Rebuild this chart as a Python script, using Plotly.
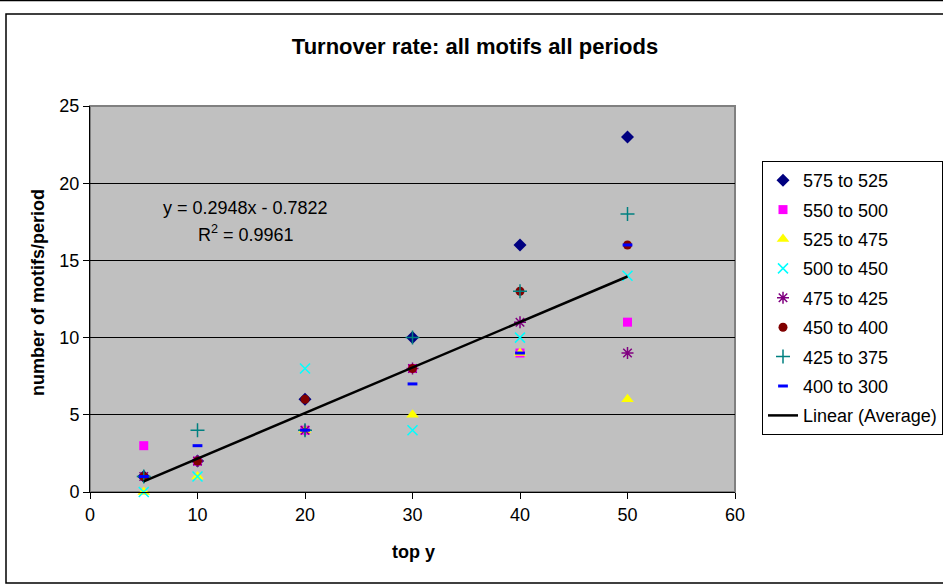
import numpy as np
import plotly.graph_objects as go

# ---- data ----
top_y = [5, 10, 20, 30, 40, 50]
series_names = ["575 to 525", "550 to 500", "525 to 475", "500 to 450",
                "475 to 425", "450 to 400", "425 to 375", "400 to 300"]
s575_525 = [1, 2, 6, 10, 16, 23]
s550_500 = [3, 2, 4, 8, 9, 11]
s525_475 = [0, 1, 4, 5, 9, 6]
s500_450 = [0, 1, 8, 4, 10, 14]
s475_425 = [1, 2, 4, 8, 11, 9]
s450_400 = [1, 2, 6, 8, 13, 16]
s425_375 = [1, 4, 4, 10, 13, 18]
s400_300 = [1, 3, 4, 7, 9, 16]
series_values = [s575_525, s550_500, s525_475, s500_450,
                 s475_425, s450_400, s425_375, s400_300]

x_ticks = [0, 10, 20, 30, 40, 50, 60]
y_ticks = [0, 5, 10, 15, 20, 25]

# ---- styles ----
styles = [
    dict(symbol="diamond", color="#000080", size=10, line=dict(width=0)),
    dict(symbol="square", color="#FF00FF", size=9, line=dict(width=0)),
    dict(symbol="triangle-up", color="#FFFF00", size=11, line=dict(width=0)),
    dict(symbol="x-thin-open", color="#00FFFF", size=10, line=dict(width=1.5, color="#00FFFF")),
    dict(symbol="asterisk-open", color="#800080", size=10, line=dict(width=1.5, color="#800080")),
    dict(symbol="circle", color="#800000", size=9, line=dict(width=0)),
    dict(symbol="cross-thin-open", color="#008080", size=10, line=dict(width=1.5, color="#008080")),
    dict(symbol="line-ew-open", color="#0000FF", size=7, line=dict(width=3, color="#0000FF")),
]

PL, PR, PT, PB = 90, 735, 106, 492
PW, PH = PR - PL, PB - PT


def px(xp):
    return (xp - PL) / PW


def py(yp):
    return (PB - yp) / PH


fig = go.Figure()
for i, (name, vals) in enumerate(zip(series_names, series_values)):
    fig.add_trace(go.Scatter(
        x=top_y, y=vals, mode="markers", name=name,
        marker=styles[i], legendgroup=f"g{i}", cliponaxis=False,
    ))

# average series and linear trendline
avg = np.mean(np.array(series_values, dtype=float), axis=0)
slope, intercept = np.polyfit(top_y, avg, 1)
pred = slope * np.array(top_y) + intercept
r2 = 1 - np.sum((avg - pred) ** 2) / np.sum((avg - avg.mean()) ** 2)
fig.add_trace(go.Scatter(
    x=[top_y[0], top_y[-1]], y=[slope * top_y[0] + intercept, slope * top_y[-1] + intercept],
    mode="lines", name="Linear (Average)", line=dict(color="black", width=2.5),
    legendgroup="g8",
))

fig.add_annotation(
    xref="paper", yref="paper", x=px(245), y=py(208),
    text=f"y = {slope:.4f}x - {abs(intercept):.4f}", showarrow=False,
    font=dict(size=18, color="black"), xanchor="center", yanchor="middle",
)
fig.add_annotation(
    xref="paper", yref="paper", x=px(246), y=py(233),
    text=f"R<sup>2</sup> = {r2:.4f}", showarrow=False,
    font=dict(size=18, color="black"), xanchor="center", yanchor="middle",
)
fig.add_annotation(
    xref="paper", yref="paper", x=px(38), y=py(293), textangle=-90,
    text="<b>number of motifs/period</b>", showarrow=False,
    font=dict(size=18, color="black"), xanchor="center", yanchor="middle",
)
fig.add_annotation(
    xref="paper", yref="paper", x=px(413), y=py(552),
    text="<b>top y</b>", showarrow=False,
    font=dict(size=18, color="black"), xanchor="center", yanchor="middle",
)

fig.update_layout(
    width=943, height=584,
    margin=dict(l=PL, r=943 - PR, t=PT, b=584 - PB, autoexpand=False),
    paper_bgcolor="white", plot_bgcolor="#C0C0C0",
    font=dict(family="Liberation Sans, Arial, sans-serif", size=18, color="black"),
    title=dict(text="<b>Turnover rate: all motifs all periods</b>", x=475 / 943, xref="container",
               xanchor="center", y=1 - 46 / 584, yref="container", yanchor="middle",
               font=dict(size=22)),
    showlegend=True,
    legend=dict(
        x=px(762), xref="paper", xanchor="left",
        y=py(161), yref="paper", yanchor="top",
        bgcolor="white", bordercolor="black", borderwidth=1,
        font=dict(size=18), traceorder="grouped", tracegroupgap=3,
        itemwidth=30,
    ),
    xaxis=dict(
        range=[0, 60], tickvals=x_ticks, showgrid=False, zeroline=False,
        showline=True, linecolor="black", linewidth=1,
        ticks="outside", ticklen=6, tickcolor="black",
    ),
    yaxis=dict(
        range=[0, 25], tickvals=y_ticks, showgrid=True, gridcolor="black", gridwidth=1,
        zeroline=False, showline=True, linecolor="black", linewidth=1,
        ticks="outside", ticklen=6, tickcolor="black",
    ),
    shapes=[
        dict(type="rect", xref="paper", yref="paper", x0=0, x1=1, y0=0, y1=1,
             line=dict(color="#808080", width=2), layer="below"),
        dict(type="rect", xref="paper", yref="paper",
             x0=px(6), x1=px(945), y0=py(583), y1=py(14),
             line=dict(color="black", width=1.5)),
        dict(type="line", xref="paper", yref="paper",
             x0=px(0), x1=px(943), y0=py(0.5), y1=py(0.5),
             line=dict(color="black", width=1.5)),
    ],
)

fig.write_html("out.html", config={"displayModeBar": False},
               post_script="document.body.style.margin='0';document.body.style.padding='0';")
